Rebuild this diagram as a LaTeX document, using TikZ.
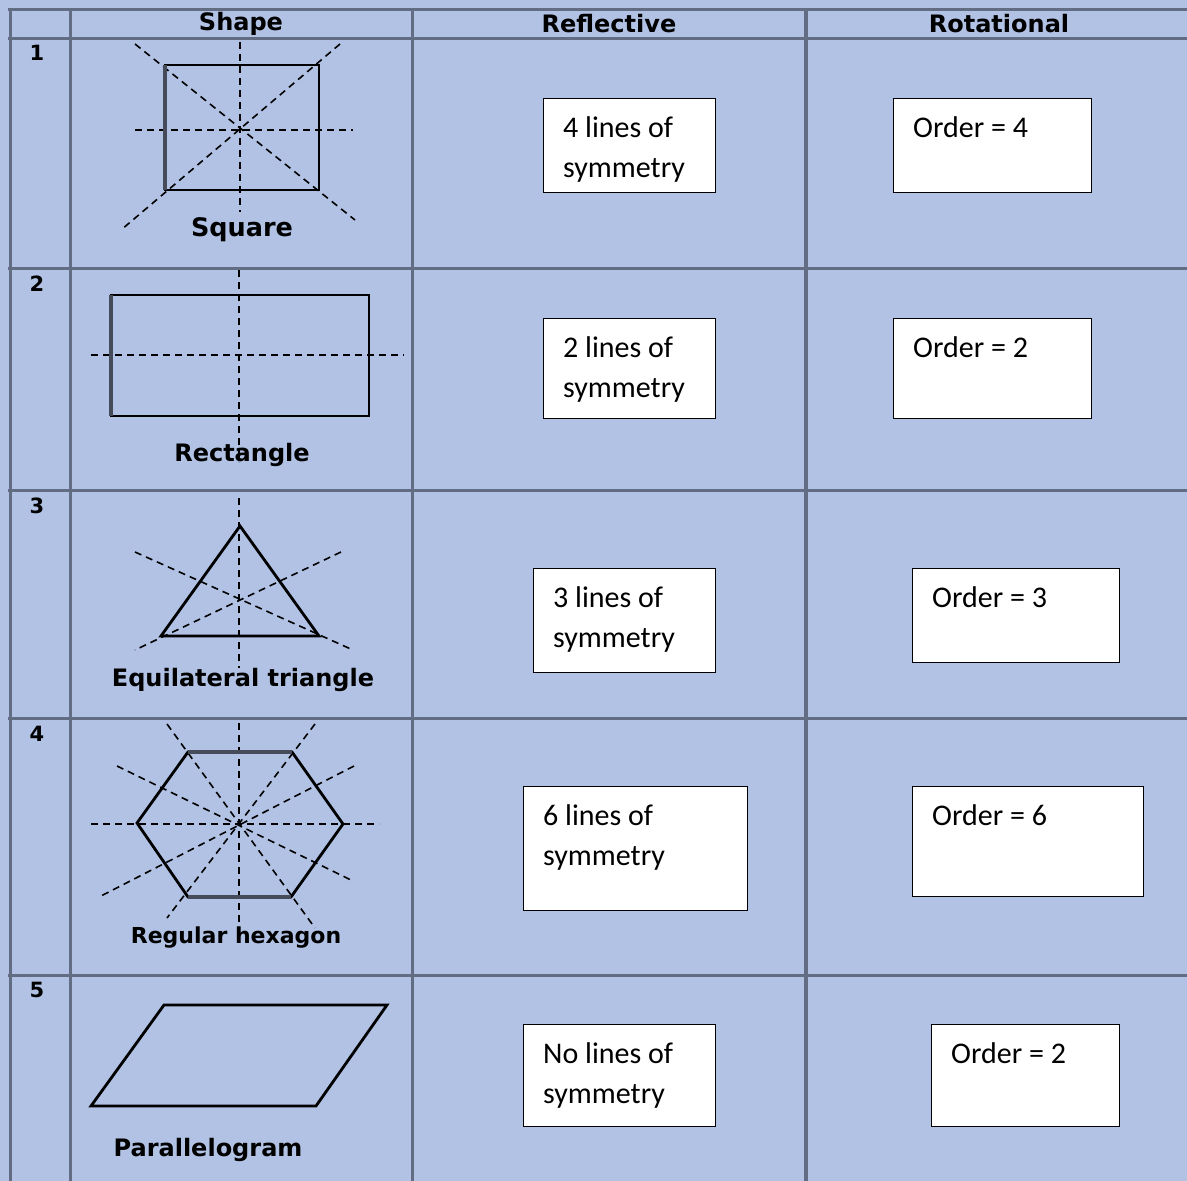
\documentclass[tikz,border=0pt]{standalone}
\usepackage{fontspec}
\setmainfont{Carlito}
\newfontfamily\pixfont{DejaVu Sans}
\definecolor{bg}{RGB}{177,194,228}
\definecolor{gridc}{RGB}{98,108,130}
\definecolor{thickc}{RGB}{70,75,90}
\begin{document}
\begin{tikzpicture}[x=1pt,y=-1pt,
  gridline/.style={draw=gridc,line width=3pt},
  shapeline/.style={draw=black,line width=2.8pt,line join=miter},
  thickedge/.style={draw=thickc,line width=4pt},
  symline/.style={draw=black,line width=1.6pt,dash pattern=on 7pt off 5pt},
  hdr/.style={font=\pixfont\bfseries\fontsize{24}{27}\selectfont,inner sep=0pt},
  lbl/.style={font=\pixfont\bfseries\fontsize{24}{27}\selectfont,inner sep=0pt},
  num/.style={font=\pixfont\bfseries\fontsize{21}{24}\selectfont,inner sep=0pt},
  ansbox/.style={draw=black,fill=white,line width=1.1pt,anchor=north west,inner sep=0pt},
  btext/.style={font=\fontsize{30}{40}\selectfont,anchor=base west,inner sep=0pt}]
\useasboundingbox (0,0) rectangle (1187,1181);
\fill[bg] (0,0) rectangle (1187,1181);
% grid
\coordinate (gl1) at (10,9); \coordinate (gl1b) at (10,1181);
\coordinate (gl2) at (70,9); \coordinate (gl2b) at (70,1181);
\coordinate (gl3) at (412,9); \coordinate (gl3b) at (412,1181);
\coordinate (gl4) at (806,9); \coordinate (gl4b) at (806,1181);
\draw[gridline] (gl1) -- (gl1b);
\draw[gridline] (gl2) -- (gl2b);
\draw[gridline] (gl3) -- (gl3b);
\draw[gridline,line width=4pt] (gl4) -- (gl4b);
\foreach \yy/\nm in {9/h0,38/h1,268/h2,490/h3,718/h4,975/h5}{
  \coordinate (\nm a) at (8,\yy); \coordinate (\nm b) at (1187,\yy);
  \draw[gridline] (\nm a) -- (\nm b);
}
% headers
\node[hdr] (hshape) at (241,24) {Shape};
\node[hdr] (hrefl) at (609,24) {Reflective};
\node[hdr] (hrot) at (999,24) {Rotational};
% row numbers
\node[num] (n1) at (37,53) {1};
\node[num] (n2) at (37,284) {2};
\node[num] (n3) at (37,506) {3};
\node[num] (n4) at (37,734) {4};
\node[num] (n5) at (37,990) {5};
% ---------- square
\coordinate (sqa) at (240,42); \coordinate (sqb) at (240,212);
\coordinate (sqc) at (135,130); \coordinate (sqd) at (353,130);
\coordinate (sqe) at (135,44); \coordinate (sqf) at (355,220);
\coordinate (sqg) at (340,44); \coordinate (sqh) at (121,230);
\draw[symline] (sqa) -- (sqb);
\draw[symline] (sqc) -- (sqd);
\draw[symline] (sqe) -- (sqf);
\draw[symline] (sqg) -- (sqh);
\coordinate (sq1) at (165,65); \coordinate (sq2) at (319,65);
\coordinate (sq3) at (319,190); \coordinate (sq4) at (165,190);
\draw[shapeline] (sq1) -- (sq2) -- (sq3) -- (sq4) -- cycle;
\draw[thickedge] (sq1) -- (sq4);
\node[lbl,font=\pixfont\bfseries\fontsize{25.5}{27}\selectfont] (lsq) at (242,230) {Square};
% ---------- rectangle
\coordinate (rea) at (239,270); \coordinate (reb) at (239,462);
\coordinate (rec) at (91,355); \coordinate (red) at (404,355);
\draw[symline] (rea) -- (reb);
\draw[symline] (rec) -- (red);
\coordinate (re1) at (111,295); \coordinate (re2) at (369,295);
\coordinate (re3) at (369,416); \coordinate (re4) at (111,416);
\draw[shapeline] (re1) -- (re2) -- (re3) -- (re4) -- cycle;
\draw[thickedge] (re1) -- (re4);
\node[lbl] (lre) at (242,455) {Rectangle};
% ---------- triangle
\coordinate (tra) at (239,498); \coordinate (trb) at (239,668);
\coordinate (trc) at (135,552); \coordinate (trd) at (353,650);
\coordinate (tre) at (341,552); \coordinate (trf) at (135,650);
\draw[symline] (tra) -- (trb);
\draw[symline] (trc) -- (trd);
\draw[symline] (tre) -- (trf);
\coordinate (tr1) at (240,526); \coordinate (tr2) at (319,636); \coordinate (tr3) at (161,636);
\draw[shapeline] (tr1) -- (tr2) -- (tr3) -- cycle;
\node[lbl] (ltr) at (243,680) {Equilateral triangle};
% ---------- hexagon
\coordinate (hxa) at (239,723); \coordinate (hxb) at (239,928);
\coordinate (hxc) at (91,824); \coordinate (hxd) at (379,824);
\coordinate (hxe) at (167,724); \coordinate (hxf) at (315,928);
\coordinate (hxg) at (315,724); \coordinate (hxh) at (167,918);
\coordinate (hxi) at (117,766); \coordinate (hxj) at (351,880);
\coordinate (hxk) at (354,766); \coordinate (hxl) at (101,896);
\draw[symline] (hxa) -- (hxb);
\draw[symline] (hxc) -- (hxd);
\draw[symline] (hxe) -- (hxf);
\draw[symline] (hxg) -- (hxh);
\draw[symline] (hxi) -- (hxj);
\draw[symline] (hxk) -- (hxl);
\coordinate (hx1) at (188,752); \coordinate (hx2) at (292,752);
\coordinate (hx3) at (343,824); \coordinate (hx4) at (291,897);
\coordinate (hx5) at (188,897); \coordinate (hx6) at (137,823);
\draw[shapeline] (hx1) -- (hx2) -- (hx3) -- (hx4) -- (hx5) -- (hx6) -- cycle;
\draw[thickedge] (hx1) -- (hx2);
\draw[thickedge] (hx4) -- (hx5);
\node[lbl,font=\pixfont\bfseries\fontsize{22}{27}\selectfont] (lhx) at (236,938) {Regular hexagon};
% ---------- parallelogram
\coordinate (pa1) at (164,1005); \coordinate (pa2) at (387,1005);
\coordinate (pa3) at (316,1106); \coordinate (pa4) at (91,1106);
\draw[shapeline] (pa1) -- (pa2) -- (pa3) -- (pa4) -- cycle;
\node[lbl] (lpa) at (208,1150) {Parallelogram};
% ---------- answer boxes
\node[ansbox,minimum width=172pt,minimum height=94pt] (rf1) at (543,98) {};
\node[ansbox,minimum width=198pt,minimum height=94pt] (ro1) at (893,98) {};
\node[ansbox,minimum width=172pt,minimum height=100pt] (rf2) at (543,318) {};
\node[ansbox,minimum width=198pt,minimum height=100pt] (ro2) at (893,318) {};
\node[ansbox,minimum width=182pt,minimum height=104pt] (rf3) at (533,568) {};
\node[ansbox,minimum width=207pt,minimum height=94pt] (ro3) at (912,568) {};
\node[ansbox,minimum width=224pt,minimum height=124pt] (rf4) at (523,786) {};
\node[ansbox,minimum width=231pt,minimum height=110pt] (ro4) at (912,786) {};
\node[ansbox,minimum width=192pt,minimum height=102pt] (rf5) at (523,1024) {};
\node[ansbox,minimum width=188pt,minimum height=102pt] (ro5) at (931,1024) {};
% texts
\foreach \b/\t in {rf1/4,rf2/2,rf3/3,rf4/6,rf5/No}{
  \node[btext] (\b a) at ([xshift=20pt,yshift=-39pt]\b.north west) {\t{} lines of};
  \node[btext] (\b b) at ([xshift=20pt,yshift=-79pt]\b.north west) {symmetry};
}
\foreach \b/\t in {ro1/4,ro2/2,ro3/3,ro4/6,ro5/2}{
  \node[btext] (\b a) at ([xshift=20pt,yshift=-39pt]\b.north west) {Order = \t};
}
\end{tikzpicture}
\end{document}
